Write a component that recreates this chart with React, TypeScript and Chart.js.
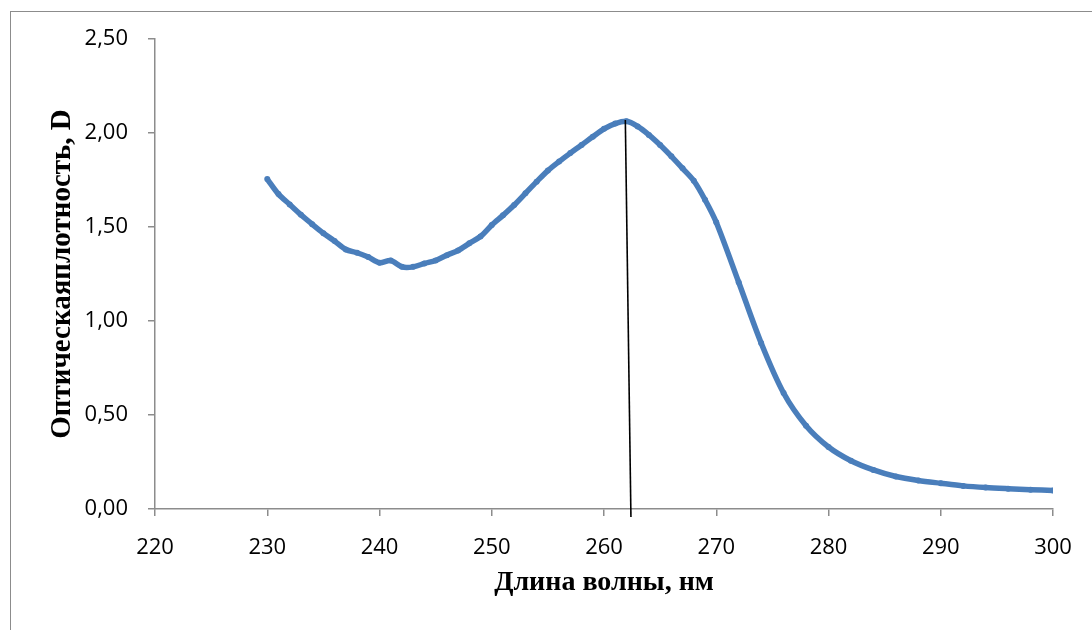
import React, { useEffect, useRef } from "react";
import { Chart, registerables } from "chart.js";

Chart.register(...registerables);

const wavelengths = [
  230, 231, 232, 233, 234, 235, 236, 237, 238, 239,
  240, 241, 242, 243, 244, 245, 246, 247, 248, 249,
  250, 251, 252, 253, 254, 255, 256, 257, 258, 259,
  260, 261, 262, 263, 264, 265, 266, 267, 268, 269,
  270, 272, 274, 276, 278, 280, 282, 284, 286, 288,
  290, 292, 294, 296, 298, 300,
];
const absorbance = [
  1.755, 1.675, 1.62, 1.565, 1.515, 1.467, 1.425, 1.38, 1.363, 1.34,
  1.31, 1.322, 1.288, 1.288, 1.306, 1.322, 1.35, 1.375, 1.413, 1.45,
  1.51, 1.562, 1.617, 1.679, 1.741, 1.8, 1.848, 1.893, 1.936, 1.98,
  2.022, 2.05, 2.062, 2.035, 1.99, 1.936, 1.876, 1.812, 1.746, 1.645,
  1.525, 1.206, 0.883, 0.617, 0.443, 0.33, 0.257, 0.208, 0.173, 0.152,
  0.137, 0.123, 0.114, 0.108, 0.103, 0.098,
];
// peak marker line (drawn by hand in the original)
const markerX = [261.9, 262.4];
const markerY = [2.069, -0.042];

const xTitle = "Длина волны, нм";
const yTitle = "Оптическаяплотность, D";

export default function App() {
  const ref = useRef<HTMLCanvasElement | null>(null);

  useEffect(() => {
    if (!ref.current) return;
    const axisColor = "#8c8c8c";
    const tickFont = { family: "'Open Sans', sans-serif", size: 22 };
    const xTitleFont = { family: "'Liberation Serif', 'Times New Roman', serif", size: 28, weight: "bold" as const };
    const yTitleFont = { family: "'Liberation Serif', 'Times New Roman', serif", size: 29, weight: "bold" as const };
    const chart = new Chart(ref.current, {
      type: "scatter",
      data: {
        datasets: [
          {
            data: markerX.map((x, i) => ({ x, y: markerY[i] })),
            showLine: true,
            borderColor: "#000000",
            borderWidth: 1.6,
            pointRadius: 0,
            clip: false as any,
          },
          {
            data: wavelengths.map((x, i) => ({ x, y: absorbance[i] })),
            showLine: true,
            borderColor: "#4a7ebb",
            backgroundColor: "#4a7ebb",
            borderWidth: 5.5,
            pointRadius: 3,
            pointBorderWidth: 0,
            tension: 0.3,
          },
        ],
      },
      options: {
        responsive: false,
        animation: false,
        layout: { padding: { left: 0, right: 39, top: 39, bottom: 0 } },
        plugins: { legend: { display: false }, tooltip: { enabled: false } },
        scales: {
          x: {
            type: "linear",
            min: 220,
            max: 300,
            afterFit: (s: any) => { s.height = 121; },
            ticks: { stepSize: 10, color: "#000", font: tickFont, padding: 19, maxRotation: 0 },
            grid: { drawOnChartArea: false, tickLength: 7, color: axisColor, lineWidth: 1.5 },
            border: { color: axisColor, width: 1.5 },
            title: { display: true, text: xTitle, color: "#000", font: xTitleFont, padding: { top: 0, bottom: 30 } },
          },
          y: {
            type: "linear",
            min: 0,
            max: 2.5,
            afterFit: (s: any) => { s.width = 155; },
            ticks: {
              stepSize: 0.5,
              color: "#000",
              font: tickFont,
              padding: 20,
              callback: (v: any) => Number(v).toFixed(2).replace(".", ","),
            },
            grid: { drawOnChartArea: false, tickLength: 7, color: axisColor, lineWidth: 1.5 },
            border: { color: axisColor, width: 1.5 },
            title: { display: true, text: yTitle, color: "#000", font: yTitleFont, padding: { top: 45, bottom: 0 } },
          },
        },
      },
    });
    return () => chart.destroy();
  }, []);

  return (
    <div style={{ position: "fixed", left: 0, top: 0, width: 1092, height: 630, overflow: "hidden", background: "#fff" }}>
      <div style={{ position: "absolute", left: 10, top: 11, width: 2000, height: 2000, border: "1px solid #8c8c8c" }} />
      <canvas ref={ref} width={1092} height={630} style={{ position: "absolute", left: 0, top: 0 }} />
    </div>
  );
}
